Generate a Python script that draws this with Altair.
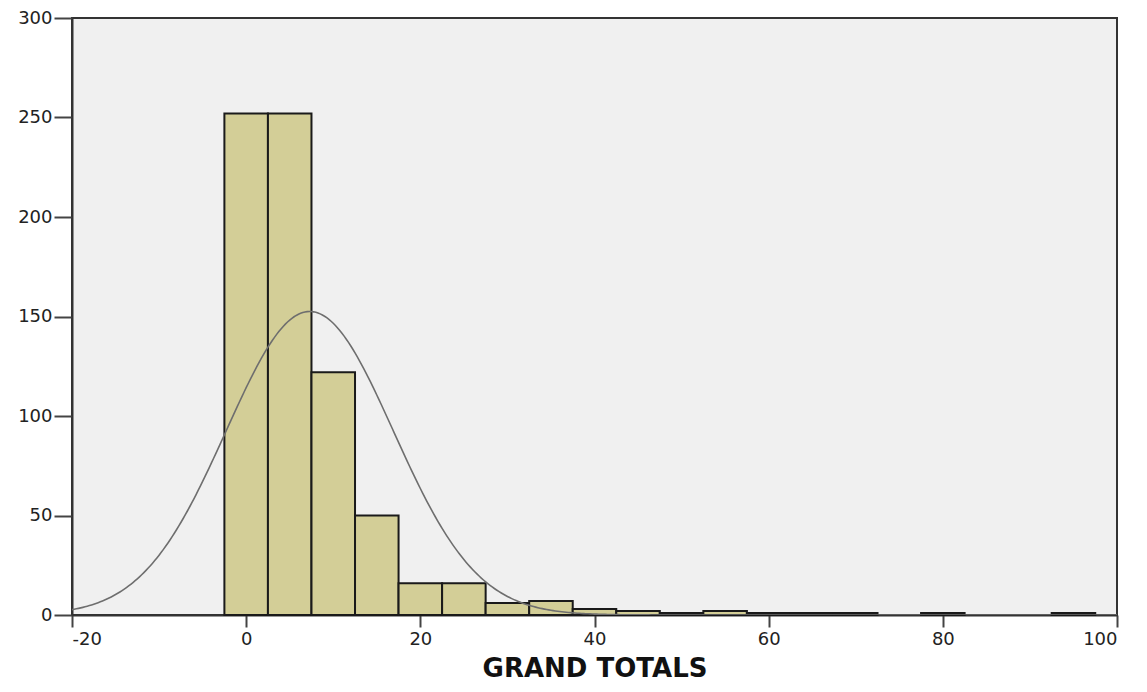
import altair as alt
import pandas as pd

# Histogram data (bin width 5)
bin_start = [-2.5, 2.5, 7.5, 12.5, 17.5, 22.5, 27.5, 32.5, 37.5, 42.5, 47.5, 52.5, 57.5, 62.5, 67.5, 77.5, 92.5]
bin_end = [2.5, 7.5, 12.5, 17.5, 22.5, 27.5, 32.5, 37.5, 42.5, 47.5, 52.5, 57.5, 62.5, 67.5, 72.5, 82.5, 97.5]
counts = [252, 252, 122, 50, 16, 16, 6, 7, 3, 2, 1, 2, 1, 1, 1, 1, 1]

# Normal curve parameters (fitted)
n_total = 734
mean_val = 7.3
sd_val = 9.6
bin_width = 5

x_ticks = [-20, 0, 20, 40, 60, 80, 100]
y_ticks = [0, 50, 100, 150, 200, 250, 300]

bars_df = pd.DataFrame({"lo": bin_start, "hi": bin_end, "count": counts})

x_scale = alt.Scale(domain=[-20, 100], nice=False, zero=False)
y_scale = alt.Scale(domain=[0, 300], nice=False)

axis_common = dict(
    labelFont="DejaVu Sans",
    labelFontSize=18,
    labelColor="#222222",
    domainColor="#333333",
    domainWidth=2,
    tickColor="#444444",
    tickWidth=2,
    grid=False,
    labelExpr="'' + datum.value",
)

bars = alt.Chart(bars_df).mark_rect(
    fill="#d3ce97", stroke="#1a1a1a", strokeWidth=2
).encode(
    x=alt.X("lo:Q", scale=x_scale,
            axis=alt.Axis(values=x_ticks, title="GRAND TOTALS",
                          titleFont="DejaVu Sans", titleFontSize=26,
                          titleFontWeight="bold", titleColor="#111111",
                          titlePadding=7, tickSize=12, labelPadding=3,
                          **axis_common)),
    x2="hi:Q",
    y=alt.Y("count:Q", scale=y_scale,
            axis=alt.Axis(values=y_ticks, title=None, tickSize=18,
                          labelPadding=2, **axis_common)),
    y2=alt.datum(0),
)

curve = alt.Chart(alt.sequence(-20, 100.25, 0.25, as_="x")).transform_calculate(
    y=f"{n_total}*{bin_width}/({sd_val}*sqrt(2*PI))*exp(-0.5*pow((datum.x-{mean_val})/{sd_val},2))"
).mark_line(color="#6e6e6e", strokeWidth=1.6, clip=True).encode(
    x=alt.X("x:Q", scale=x_scale),
    y=alt.Y("y:Q", scale=y_scale),
)

chart = alt.layer(bars, curve).properties(
    width=1045,
    height=597,
    autosize=alt.AutoSizeParams(type="none"),
    padding={"left": 64, "top": 10, "right": 22, "bottom": 68},
    background="white",
).configure_view(
    fill="#f0f0f0",
    stroke="#333333",
    strokeWidth=2,
)

chart.save("out.html", embed_options={"renderer": "svg", "actions": False})
